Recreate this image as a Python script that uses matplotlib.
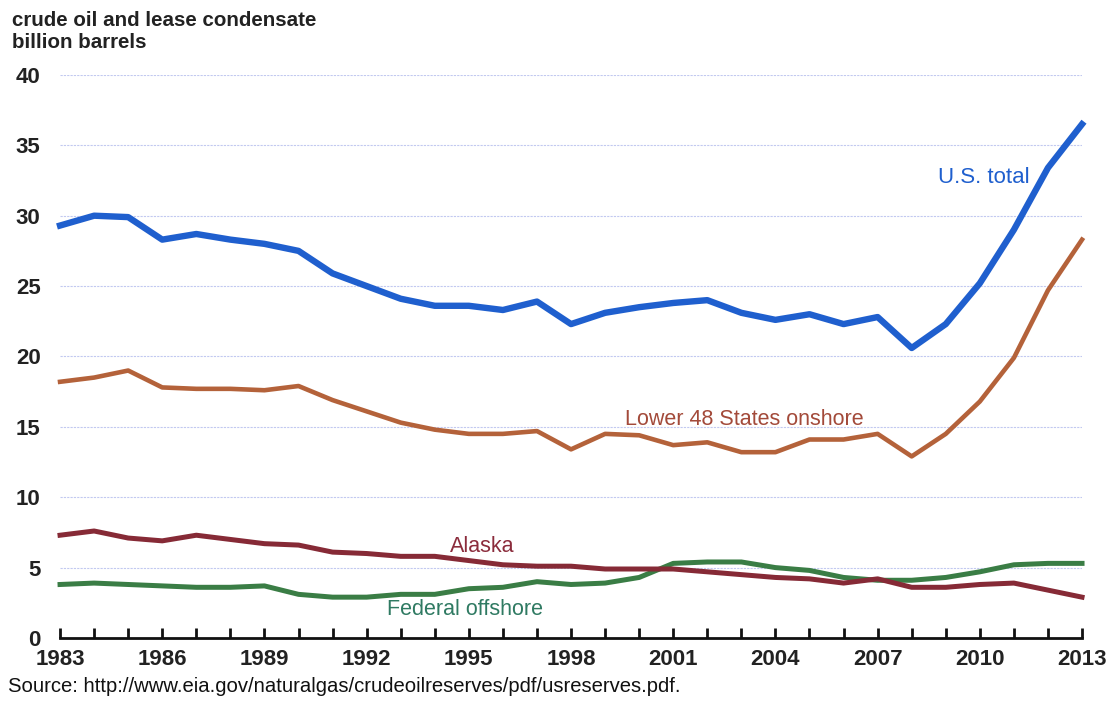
import matplotlib.pyplot as plt

# dados (bilhoes de barris)
anos = list(range(1983, 2014))

us_total = [29.3, 30.0, 29.9, 28.3, 28.7, 28.3, 28.0, 27.5, 25.9, 25.0,
            24.1, 23.6, 23.6, 23.3, 23.9, 22.3, 23.1, 23.5, 23.8, 24.0,
            23.1, 22.6, 23.0, 22.3, 22.8, 20.6, 22.3, 25.2, 29.0, 33.4, 36.5]

lower48 = [18.2, 18.5, 19.0, 17.8, 17.7, 17.7, 17.6, 17.9, 16.9, 16.1,
           15.3, 14.8, 14.5, 14.5, 14.7, 13.4, 14.5, 14.4, 13.7, 13.9,
           13.2, 13.2, 14.1, 14.1, 14.5, 12.9, 14.5, 16.8, 19.9, 24.7, 28.3]

alaska = [7.3, 7.6, 7.1, 6.9, 7.3, 7.0, 6.7, 6.6, 6.1, 6.0,
          5.8, 5.8, 5.5, 5.2, 5.1, 5.1, 4.9, 4.9, 4.9, 4.7,
          4.5, 4.3, 4.2, 3.9, 4.2, 3.6, 3.6, 3.8, 3.9, 3.4, 2.9]

federal = [3.8, 3.9, 3.8, 3.7, 3.6, 3.6, 3.7, 3.1, 2.9, 2.9,
           3.1, 3.1, 3.5, 3.6, 4.0, 3.8, 3.9, 4.3, 5.3, 5.4,
           5.4, 5.0, 4.8, 4.3, 4.1, 4.1, 4.3, 4.7, 5.2, 5.3, 5.3]

anos_rotulo = list(range(1983, 2014, 3))
y_ticks = [0, 5, 10, 15, 20, 25, 30, 35, 40]

plt.rcParams['font.family'] = ['Liberation Sans', 'DejaVu Sans']
texto = '#222222'

fig = plt.figure(figsize=(11.14, 7.01), dpi=100)
ax = fig.add_axes([0.0539, 0.0899, 0.9174, 0.8032])

# linhas
ax.plot(anos, us_total, color='#1f5fce', lw=4.6, clip_on=False, zorder=5)
ax.plot(anos, lower48, color='#b4623a', lw=3.3, clip_on=False, zorder=4)
ax.plot(anos, federal, color='#3a7d45', lw=3.6, clip_on=False, zorder=3)
ax.plot(anos, alaska, color='#862a36', lw=3.6, clip_on=False, zorder=3)

# rotulos das series
ax.text(2011.45, 32.7, 'U.S. total', color='#1f5fce', fontsize=16,
        ha='right', va='center')
ax.text(2003.1, 15.5, 'Lower 48 States onshore', color='#a34a3a', fontsize=15.5,
        ha='center', va='center')
ax.text(1995.4, 6.5, 'Alaska', color='#8b2c3c', fontsize=15.5,
        ha='center', va='center')
ax.text(1994.9, 2.0, 'Federal offshore', color='#2f7a62', fontsize=15.5,
        ha='center', va='center')

# eixos
ax.set_xlim(1983, 2013)
ax.set_ylim(0, 40)
ax.set_xticks(anos)
ax.set_xticklabels([str(a) if a in anos_rotulo else '' for a in anos])
ax.set_yticks(y_ticks)
for s in ['left', 'right', 'top']:
    ax.spines[s].set_visible(False)
ax.spines['bottom'].set_linewidth(2)
ax.spines['bottom'].set_color('#111111')
ax.tick_params(axis='x', direction='in', length=7, width=2, color='#111111',
               pad=8, labelsize=16, labelcolor=texto)
ax.tick_params(axis='y', length=0, pad=14, labelsize=16, labelcolor=texto)
for lab in ax.get_xticklabels() + ax.get_yticklabels():
    lab.set_fontweight('bold')

ax.yaxis.grid(True, color='#c2c9f0', linestyle=(0, (2, 1)), lw=0.8)
ax.set_axisbelow(True)

# titulo e fonte
fig.text(0.011, 0.971, 'crude oil and lease condensate', fontsize=14.8,
         fontweight='bold', color=texto, va='center')
fig.text(0.011, 0.94, 'billion barrels', fontsize=14.8,
         fontweight='bold', color=texto, va='center')
fig.text(0.007, 0.02,
         'Source: http://www.eia.gov/naturalgas/crudeoilreserves/pdf/usreserves.pdf.',
         fontsize=14.6, color='#111111', va='center')

fig.savefig('out.png', dpi=100)
